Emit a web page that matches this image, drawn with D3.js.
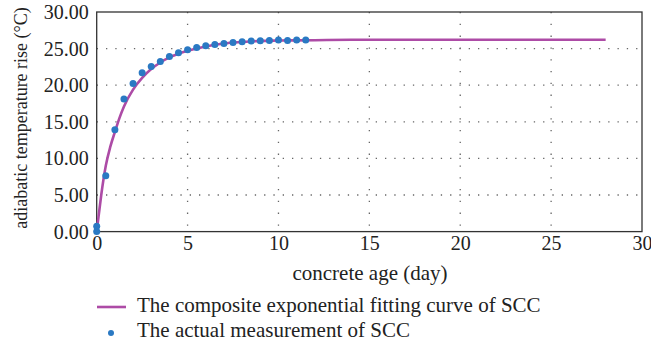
<!DOCTYPE html>
<html>
<head>
<meta charset="utf-8">
<script src="https://cdn.jsdelivr.net/npm/d3@7"></script>
<style>
  body { margin: 0; background: #fff; }
  text { font-family: "Liberation Serif", "DejaVu Serif", serif; fill: #222; }
</style>
</head>
<body>
<svg id="chart" width="651" height="347"></svg>
<script>
// measured points (day, adiabatic temperature rise)
var measDays = [0, 0, 0.5, 1, 1.5, 2, 2.5, 3, 3.5, 4, 4.5, 5, 5.5, 6, 6.5, 7, 7.5, 8, 8.5, 9, 9.5, 10, 10.5, 11, 11.5];
var measTemp = [0, 0.73, 7.63, 13.93, 18.13, 20.23, 21.69, 22.56, 23.24, 23.93, 24.43, 24.84, 25.16, 25.39, 25.57, 25.71, 25.84, 25.94, 26.03, 26.07, 26.12, 26.16, 26.12, 26.16, 26.16];

// fitted curve
var fitDays = [0, 0.1, 0.25, 0.5, 0.75, 1, 1.25, 1.5, 2, 2.5, 3, 3.5, 4, 4.5, 5, 6, 7, 8, 9, 10, 12, 14, 17, 20, 24, 28];
var fitTemp = [0, 2.0, 5.0, 9.0, 11.6, 13.6, 15.5, 17.1, 19.4, 21.0, 22.2, 23.1, 23.8, 24.3, 24.7, 25.3, 25.7, 25.9, 26.05, 26.1, 26.15, 26.2, 26.2, 26.2, 26.2, 26.2];

var xTicks = [0, 5, 10, 15, 20, 25, 30];
var yTicks = [0, 5, 10, 15, 20, 25, 30];

var plotLeft = 96.7, plotRight = 642, plotTop = 12, plotBottom = 231.6;

var svg = d3.select('#chart');

var x = d3.scaleLinear().domain([0, 30]).range([plotLeft, plotRight]);
var y = d3.scaleLinear().domain([0, 30]).range([plotBottom, plotTop]);

// grid
svg.append('g')
  .selectAll('line')
  .data(yTicks.slice(1, -1))
  .enter()
  .append('line')
  .attr('x1', plotLeft).attr('x2', plotRight)
  .attr('y1', d => y(d)).attr('y2', d => y(d))
  .attr('stroke', '#666')
  .attr('stroke-width', 1.3)
  .attr('stroke-dasharray', '1.3,8');

svg.append('g')
  .selectAll('line')
  .data(xTicks.slice(1, -1))
  .enter()
  .append('line')
  .attr('x1', d => x(d)).attr('x2', d => x(d))
  .attr('y1', plotTop).attr('y2', plotBottom)
  .attr('stroke', '#666')
  .attr('stroke-width', 1.3)
  .attr('stroke-dasharray', '1.3,10.5');

// axes (labels only, no tick marks)
var xAxis = d3.axisBottom(x).tickValues(xTicks).tickFormat(d3.format('d')).tickSize(0).tickPadding(4);
var yAxis = d3.axisLeft(y).tickValues(yTicks).tickFormat(d3.format('.2f')).tickSize(0).tickPadding(8);

svg.append('g')
  .attr('transform', 'translate(0,' + plotBottom + ')')
  .call(xAxis)
  .call(g => g.select('.domain').remove())
  .selectAll('text')
  .style('font-size', '20px')
  .style('font-family', '"Liberation Serif", serif')
  .attr('fill', '#222');

svg.append('g')
  .attr('transform', 'translate(' + plotLeft + ',0)')
  .call(yAxis)
  .call(g => g.select('.domain').remove())
  .selectAll('text')
  .style('font-size', '20px')
  .style('font-family', '"Liberation Serif", serif')
  .attr('fill', '#222');

// frame
svg.append('rect')
  .attr('x', plotLeft).attr('y', plotTop)
  .attr('width', plotRight - plotLeft).attr('height', plotBottom - plotTop)
  .attr('fill', 'none')
  .attr('stroke', '#333')
  .attr('stroke-width', 1.3);

// fitted curve
var line = d3.line()
  .x(d => x(d[0]))
  .y(d => y(d[1]))
  .curve(d3.curveMonotoneX);

svg.append('path')
  .datum(d3.zip(fitDays, fitTemp))
  .attr('d', line)
  .attr('fill', 'none')
  .attr('stroke', '#ad4ba6')
  .attr('stroke-width', 2.6);

// measurements
svg.append('g')
  .selectAll('circle')
  .data(d3.zip(measDays, measTemp))
  .enter()
  .append('circle')
  .attr('cx', d => x(d[0]))
  .attr('cy', d => y(d[1]))
  .attr('r', 3.5)
  .attr('fill', '#2a79c3');

// axis titles
svg.append('text')
  .attr('x', 370).attr('y', 280)
  .attr('text-anchor', 'middle')
  .style('font-size', '21px')
  .text('concrete age (day)');

svg.append('text')
  .attr('transform', 'translate(27,118) rotate(-90)')
  .attr('text-anchor', 'middle')
  .style('font-size', '18px')
  .text('adiabatic temperature rise (°C)');

// legend
svg.append('line')
  .attr('x1', 97).attr('x2', 126)
  .attr('y1', 307).attr('y2', 307)
  .attr('stroke', '#ad4ba6')
  .attr('stroke-width', 2.6);
svg.append('text')
  .attr('x', 137).attr('y', 312)
  .style('font-size', '21px')
  .text('The composite exponential fitting curve of SCC');

svg.append('circle')
  .attr('cx', 111).attr('cy', 333)
  .attr('r', 3)
  .attr('fill', '#2a79c3');
svg.append('text')
  .attr('x', 137).attr('y', 337)
  .style('font-size', '21px')
  .text('The actual measurement of SCC');
</script>
</body>
</html>
